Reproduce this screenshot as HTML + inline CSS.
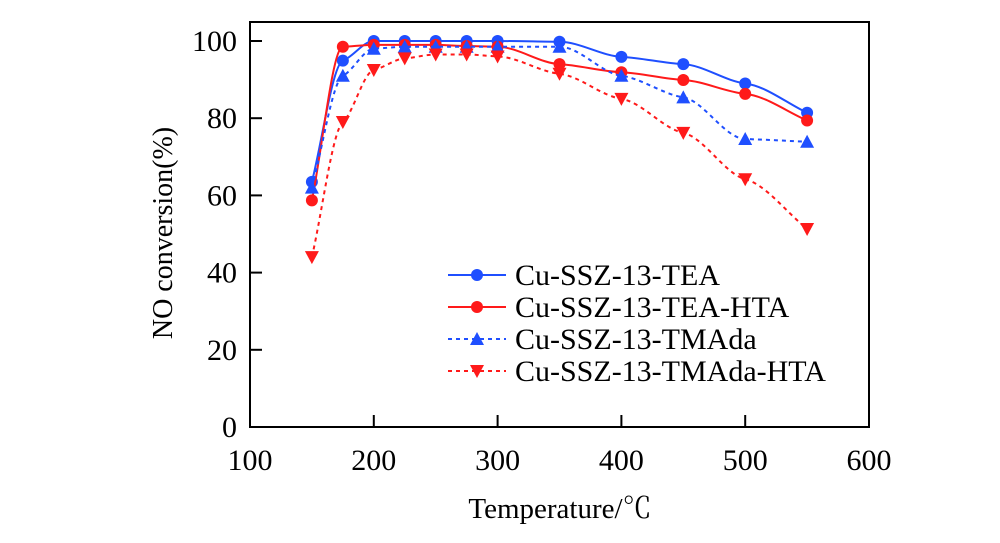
<!DOCTYPE html>
<html><head><meta charset="utf-8"><style>
body{margin:0;background:#fff;}
svg{display:block;font-family:"Liberation Serif",serif;}
</style></head><body>
<svg id="c" width="1000" height="543" viewBox="0 0 1000 543"></svg>
<script>
const temps=[150,175,200,225,250,275,300,350,400,450,500,550];
const seriesNames=["Cu-SSZ-13-TEA","Cu-SSZ-13-TEA-HTA","Cu-SSZ-13-TMAda","Cu-SSZ-13-TMAda-HTA"];
const teaValues=[63.5,94.9,100,100,100,100,100,99.8,95.9,94,89,81.4];
const teaHtaValues=[58.7,98.5,99,99,99,98.7,98.5,94,91.9,89.9,86.3,79.4];
const tmadaValues=[62,91,98,98.5,98.5,98.5,98.5,98.5,91,85.4,74.6,73.9];
const tmadaHtaValues=[44,79,92.5,95.5,96.5,96.5,96,91.5,85,76.2,64.2,51.3];
const xTicks=[100,200,300,400,500,600];
const yTicks=[0,20,40,60,80,100];
const X0=250,X1=869,Y0=427,Y1=41,TOP=22;
const sx=v=>X0+(v-100)/500*(X1-X0);
const sy=v=>Y0-v/100*(Y0-Y1);
const svg=document.getElementById('c');
const NS="http://www.w3.org/2000/svg";
function mk(t,a,p){const e=document.createElementNS(NS,t);for(const k in a)e.setAttribute(k,a[k]);(p||svg).appendChild(e);return e;}
let fr=mk('rect',{x:X0,y:TOP,width:X1-X0,height:Y0-TOP,fill:'none',stroke:'#000','stroke-width':2});


xTicks.forEach(t=>{
  const x=sx(t);
  if(t>100&&t<600){const l=mk('line',{x1:x,x2:x,y1:Y0,y2:Y0-12,stroke:'#000','stroke-width':2});
  
  }
  const tx=mk('text',{x:x,y:Y0+43,'text-anchor':'middle','font-size':30});tx.textContent=t;
  
  
});
yTicks.forEach(t=>{
  const y=sy(t);
  if(t>0){const l=mk('line',{x1:X0,x2:X0+12,y1:y,y2:y,stroke:'#000','stroke-width':2});
  
  }
  const tx=mk('text',{x:X0-13,y:y+10,'text-anchor':'end','font-size':30});tx.textContent=t;
  
  
});
let xt=mk('text',{x:560,y:518,'text-anchor':'middle','font-size':29,'font-family':'"Liberation Serif","Noto Serif CJK SC",serif'});xt.textContent='Temperature/℃';


let yt=mk('text',{x:0,y:0,'text-anchor':'middle','font-size':28,transform:'translate(172,233) rotate(-90)'});yt.textContent='NO conversion(%)';


function spline(pts){
  const n=pts.length,dx=[],m=[],t=[];
  for(let i=0;i<n-1;i++){dx[i]=pts[i+1][0]-pts[i][0];m[i]=(pts[i+1][1]-pts[i][1])/dx[i];}
  t[0]=m[0];t[n-1]=m[n-2];
  for(let i=1;i<n-1;i++){t[i]=(m[i-1]*m[i]<=0)?0:(dx[i-1]+dx[i])/((2*dx[i]+dx[i-1])/m[i-1]+(dx[i]+2*dx[i-1])/m[i]);}
  let d=`M${pts[0][0]},${pts[0][1]}`;
  for(let i=0;i<n-1;i++){
    const h=dx[i]/3;
    d+=` C${pts[i][0]+h},${pts[i][1]+t[i]*h} ${pts[i+1][0]-h},${pts[i+1][1]-t[i+1]*h} ${pts[i+1][0]},${pts[i+1][1]}`;
  }
  return d;
}
function marker(kind,x,y,col,g){
  let e;
  if(kind==='c')e=mk('circle',{cx:x,cy:y,r:6,fill:col},g);
  else if(kind==='u')e=mk('polygon',{points:`${x},${y-7} ${x-7},${y+6} ${x+7},${y+6}`,fill:col},g);
  else e=mk('polygon',{points:`${x},${y+7} ${x-7},${y-6} ${x+7},${y-6}`,fill:col},g);
  return e;
}
const series=[[teaValues,'#1f4fff','c',false],[teaHtaValues,'#ff1a1a','c',false],[tmadaValues,'#1f4fff','u',true],[tmadaHtaValues,'#ff1a1a','d',true]];
const snames=['series-tea','series-tea-hta','series-tmada','series-tmada-hta'];
series.forEach((s,i)=>{
  const g=mk('g',{});
  
  
  const pts=temps.map((t,j)=>[sx(t),sy(s[0][j])]);
  const p=mk('path',{d:spline(pts),fill:'none',stroke:s[1],'stroke-width':2,'stroke-dasharray':s[3]?'4,4':'none'},g);
  
  
  pts.forEach(pt=>{const m=marker(s[2],pt[0],pt[1],s[1],g);
    
    });
  const ly=275+i*32;
  const lg=mk('g',{});
  
  
  mk('line',{x1:448,x2:506,y1:ly,y2:ly,stroke:s[1],'stroke-width':2,'stroke-dasharray':s[3]?'4,4':'none'},lg);
  marker(s[2],477,ly,s[1],lg);
  const tx=mk('text',{x:515,y:ly+10,'font-size':30},lg);tx.textContent=seriesNames[i];
});
</script>
</body></html>
